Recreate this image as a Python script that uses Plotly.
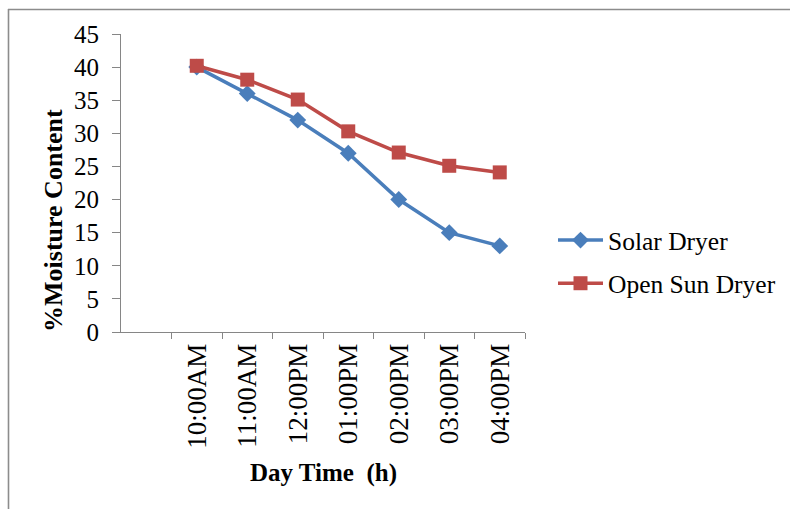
import plotly.graph_objects as go

# Drying data: moisture content (%) by time of day
times = ["10:00AM", "11:00AM", "12:00PM", "01:00PM", "02:00PM", "03:00PM", "04:00PM"]
solar_dryer = [40, 36, 32, 27, 20, 15, 13]
open_sun_dryer = [40.2, 38.1, 35.1, 30.3, 27.1, 25.1, 24.1]
y_ticks = [0, 5, 10, 15, 20, 25, 30, 35, 40, 45]

W, H = 790, 509
L, R, T, B = 121, 265, 34, 177
pw, ph = W - L - R, H - T - B


def px_x(x):
    return (x - L) / pw


def px_y(y):
    return (H - B - y) / ph


FONT = "Liberation Serif"
BLUE = "#4A7EBB"
RED = "#BE4B48"
AXIS = "#868686"

fig = go.Figure()
fig.add_trace(go.Scatter(
    x=times, y=solar_dryer, name="Solar Dryer", mode="lines+markers",
    line=dict(color=BLUE, width=3.5),
    marker=dict(symbol="diamond", size=13, color=BLUE),
    legendgroup="a",
))
fig.add_trace(go.Scatter(
    x=times, y=open_sun_dryer, name="Open Sun Dryer", mode="lines+markers",
    line=dict(color=RED, width=3.5),
    marker=dict(symbol="square", size=14, color=RED),
    legendgroup="b",
))

fig.update_layout(
    width=W, height=H,
    margin=dict(l=L, r=R, t=T, b=B, autoexpand=False),
    paper_bgcolor="white", plot_bgcolor="white",
    font=dict(family=FONT, color="black", size=24),
    showlegend=True,
    legend=dict(
        x=px_x(553), y=px_y(217), xanchor="left", yanchor="top",
        font=dict(family=FONT, size=25.5, color="black"),
        tracegroupgap=7, traceorder="grouped", itemwidth=45,
        bgcolor="rgba(0,0,0,0)",
    ),
    xaxis=dict(
        type="category", range=[-1.5, 6.5],
        tickson="boundaries", ticks="outside", ticklen=6, tickcolor=AXIS,
        showline=True, linecolor=AXIS, linewidth=1,
        showgrid=False, zeroline=False,
        tickangle=-90, tickfont=dict(family=FONT, size=27),
    ),
    yaxis=dict(
        range=[0, 45], tickvals=y_ticks, ticks="outside", ticklen=8,
        tickcolor=AXIS, showline=True, linecolor=AXIS, linewidth=1,
        showgrid=False, zeroline=False,
        tickfont=dict(family=FONT, size=25), ticklabelstandoff=8,
    ),
    annotations=[
        dict(text="<b>%Moisture Content</b>", textangle=-90,
             xref="paper", yref="paper", x=px_x(54), y=px_y(221),
             xanchor="center", yanchor="middle", showarrow=False,
             font=dict(family=FONT, size=26, color="black")),
        dict(text="<b>Day Time  (h)</b>",
             xref="paper", yref="paper", x=0.5, y=px_y(473),
             xanchor="center", yanchor="middle", showarrow=False,
             font=dict(family=FONT, size=25, color="black")),
    ],
    shapes=[
        dict(type="line", xref="paper", yref="paper",
             x0=px_x(8.5), x1=px_x(8.5), y0=px_y(9), y1=px_y(H + 2),
             line=dict(color="#8c8c8c", width=1.6)),
        dict(type="line", xref="paper", yref="paper",
             x0=px_x(8), x1=px_x(W + 2), y0=px_y(9.5), y1=px_y(9.5),
             line=dict(color="#8c8c8c", width=1.6)),
    ],
)

fig.write_html("out.html")
